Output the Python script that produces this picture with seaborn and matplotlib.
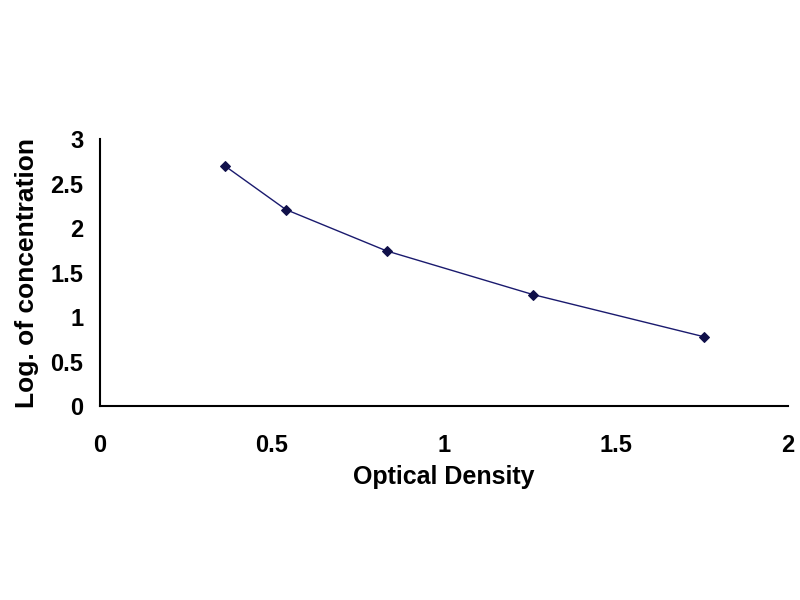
import pandas as pd
import numpy as np
import seaborn as sns
import matplotlib.pyplot as plt

# standard curve points
optical_density = [0.363, 0.540, 0.833, 1.258, 1.756]
log_concentration = [2.70, 2.21, 1.745, 1.255, 0.78]

x_ticks = [0, 0.5, 1, 1.5, 2]
x_tick_labels = ['0', '0.5', '1', '1.5', '2']
y_ticks = [0, 0.5, 1, 1.5, 2, 2.5, 3]
y_tick_labels = ['0', '0.5', '1', '1.5', '2', '2.5', '3']

df = pd.DataFrame({'od': optical_density, 'logc': log_concentration})

sns.set_style('white')
plt.rcParams['font.family'] = ['Liberation Sans', 'DejaVu Sans']

fig = plt.figure(figsize=(8, 6), dpi=100)
ax = fig.add_axes([0.125, 0.323, 0.86, 0.445])

sns.lineplot(data=df, x='od', y='logc', ax=ax, color='#1a1a6e', linewidth=1.0,
             marker='D', markersize=5, markerfacecolor='#10104a',
             markeredgecolor='#10104a')

ax.set_xlim(0, 2)
ax.set_ylim(0, 3)
ax.set_xticks(x_ticks)
ax.set_xticklabels(x_tick_labels, fontsize=17, fontweight='bold', color='black')
ax.set_yticks(y_ticks)
ax.set_yticklabels(y_tick_labels, fontsize=17, fontweight='bold', color='black')
ax.tick_params(axis='x', direction='in', length=6, width=1.5, pad=20, colors='black')
ax.tick_params(axis='y', direction='in', length=6, width=1.5, pad=12, colors='black')

for s in ['top', 'right']:
    ax.spines[s].set_visible(False)
for s in ['left', 'bottom']:
    ax.spines[s].set_color('black')
    ax.spines[s].set_linewidth(1.5)

ax.set_xlabel('Optical Density', fontsize=18, fontweight='heavy', color='black', labelpad=6)
ax.set_ylabel('Log. of concentration', fontsize=19, fontweight='heavy', color='black', labelpad=8)

fig.savefig('out.png', dpi=100)
